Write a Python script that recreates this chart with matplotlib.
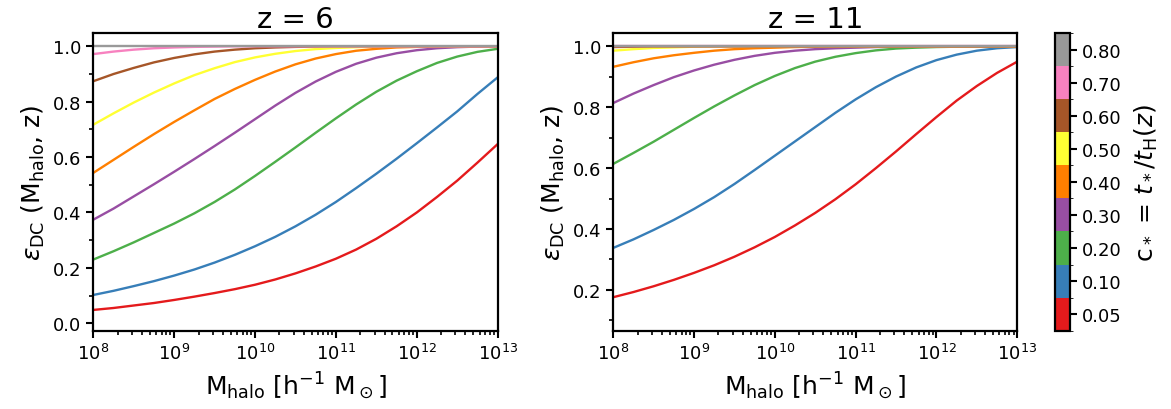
import numpy as np
import matplotlib
matplotlib.use("Agg")
import matplotlib.pyplot as plt
from matplotlib.colors import ListedColormap, BoundaryNorm
from matplotlib.cm import ScalarMappable
from matplotlib.ticker import MultipleLocator

# log10 of halo mass where the curves were read
log_mass = [8.0, 8.25, 8.5, 8.75, 9.0, 9.25, 9.5, 9.75, 10.0, 10.25, 10.5,
            10.75, 11.0, 11.25, 11.5, 11.75, 12.0, 12.25, 12.5, 12.75, 13.0]

c_star = [0.05, 0.10, 0.20, 0.30, 0.40, 0.50, 0.60, 0.70, 0.80]
c_labels = ["0.05", "0.10", "0.20", "0.30", "0.40", "0.50", "0.60", "0.70", "0.80"]
colors = ["#e41a1c", "#377eb8", "#4daf4a", "#984ea3", "#ff7f00",
          "#ffff33", "#a65628", "#f781bf", "#999999"]

# z = 6, one row per c_* value
eps_z6 = [
    [0.048, 0.055, 0.064, 0.073, 0.084, 0.096, 0.109, 0.123, 0.139, 0.158, 0.180,
     0.205, 0.233, 0.266, 0.305, 0.350, 0.400, 0.456, 0.515, 0.580, 0.647],
    [0.102, 0.117, 0.134, 0.152, 0.172, 0.194, 0.219, 0.247, 0.278, 0.312, 0.350,
     0.392, 0.438, 0.488, 0.540, 0.594, 0.650, 0.707, 0.765, 0.828, 0.888],
    [0.230, 0.260, 0.292, 0.326, 0.360, 0.397, 0.438, 0.483, 0.532, 0.583, 0.635,
     0.688, 0.740, 0.790, 0.836, 0.876, 0.910, 0.940, 0.963, 0.980, 0.991],
    [0.374, 0.414, 0.458, 0.502, 0.547, 0.593, 0.640, 0.688, 0.737, 0.786, 0.832,
     0.873, 0.908, 0.937, 0.959, 0.975, 0.986, 0.993, 0.997, 0.999, 1.000],
    [0.543, 0.590, 0.637, 0.683, 0.727, 0.769, 0.810, 0.846, 0.879, 0.909, 0.935,
     0.956, 0.972, 0.984, 0.991, 0.996, 0.998, 0.999, 1.000, 1.000, 1.000],
    [0.717, 0.758, 0.797, 0.833, 0.866, 0.896, 0.921, 0.943, 0.960, 0.973, 0.983,
     0.990, 0.994, 0.997, 0.999, 1.000, 1.000, 1.000, 1.000, 1.000, 1.000],
    [0.874, 0.900, 0.922, 0.942, 0.958, 0.971, 0.981, 0.988, 0.993, 0.996, 0.998,
     0.999, 1.000, 1.000, 1.000, 1.000, 1.000, 1.000, 1.000, 1.000, 1.000],
    [0.972, 0.981, 0.988, 0.993, 0.996, 0.998, 0.999, 1.000, 1.000, 1.000, 1.000,
     1.000, 1.000, 1.000, 1.000, 1.000, 1.000, 1.000, 1.000, 1.000, 1.000],
    [1.000, 1.000, 1.000, 1.000, 1.000, 1.000, 1.000, 1.000, 1.000, 1.000, 1.000,
     1.000, 1.000, 1.000, 1.000, 1.000, 1.000, 1.000, 1.000, 1.000, 1.000],
]

# z = 11
eps_z11 = [
    [0.176, 0.193, 0.212, 0.233, 0.256, 0.281, 0.309, 0.340, 0.374, 0.412, 0.453,
     0.498, 0.547, 0.600, 0.655, 0.712, 0.768, 0.822, 0.870, 0.913, 0.950],
    [0.338, 0.366, 0.397, 0.430, 0.466, 0.505, 0.548, 0.594, 0.641, 0.688, 0.735,
     0.782, 0.826, 0.866, 0.901, 0.931, 0.955, 0.973, 0.986, 0.994, 0.998],
    [0.614, 0.650, 0.687, 0.726, 0.765, 0.803, 0.839, 0.873, 0.903, 0.929, 0.950,
     0.966, 0.978, 0.987, 0.993, 0.996, 0.998, 0.999, 1.000, 1.000, 1.000],
    [0.814, 0.845, 0.873, 0.899, 0.921, 0.940, 0.956, 0.969, 0.979, 0.986, 0.991,
     0.994, 0.996, 0.998, 0.999, 1.000, 1.000, 1.000, 1.000, 1.000, 1.000],
    [0.933, 0.948, 0.961, 0.971, 0.979, 0.986, 0.991, 0.994, 0.996, 0.998, 0.999,
     1.000, 1.000, 1.000, 1.000, 1.000, 1.000, 1.000, 1.000, 1.000, 1.000],
    [0.986, 0.991, 0.995, 0.997, 0.999, 1.000, 1.000, 1.000, 1.000, 1.000, 1.000,
     1.000, 1.000, 1.000, 1.000, 1.000, 1.000, 1.000, 1.000, 1.000, 1.000],
    [0.998, 0.999, 1.000, 1.000, 1.000, 1.000, 1.000, 1.000, 1.000, 1.000, 1.000,
     1.000, 1.000, 1.000, 1.000, 1.000, 1.000, 1.000, 1.000, 1.000, 1.000],
    [1.000, 1.000, 1.000, 1.000, 1.000, 1.000, 1.000, 1.000, 1.000, 1.000, 1.000,
     1.000, 1.000, 1.000, 1.000, 1.000, 1.000, 1.000, 1.000, 1.000, 1.000],
    [1.000, 1.000, 1.000, 1.000, 1.000, 1.000, 1.000, 1.000, 1.000, 1.000, 1.000,
     1.000, 1.000, 1.000, 1.000, 1.000, 1.000, 1.000, 1.000, 1.000, 1.000],
]

redshifts = [6, 11]


def style_axis(ax, ylim):
    ax.set_xscale("log")
    ax.set_xlim(1e8, 1e13)
    ax.set_ylim(*ylim)
    ax.yaxis.set_major_locator(MultipleLocator(0.2))
    ax.yaxis.set_minor_locator(MultipleLocator(0.1))
    ax.tick_params(which="major", length=5, width=1.5, labelsize=13)
    ax.tick_params(which="minor", length=3, width=1.2)
    for s in ax.spines.values():
        s.set_linewidth(1.6)
    ax.set_xlabel(r"M$_{\rm halo}$ [h$^{-1}$ M$_\odot$]", fontsize=18, labelpad=5)
    ax.set_ylabel(r"$\varepsilon_{\rm DC}$ (M$_{\rm halo}$, z)", fontsize=18)


fig = plt.figure(figsize=(11.71, 4.10), dpi=100)
ax1 = fig.add_axes([0.0797, 0.191, 0.3453, 0.726])
ax2 = fig.add_axes([0.5237, 0.191, 0.3450, 0.726])
cax = fig.add_axes([0.901, 0.191, 0.0128, 0.726])

mass = 10 ** np.array(log_mass)
for ax, data, z in zip([ax1, ax2], [eps_z6, eps_z11], redshifts):
    for vals, col in zip(data, colors):
        ax.plot(mass, vals, color=col, lw=1.7)
    ax.set_title(f"z = {z}", fontsize=21, pad=4)

style_axis(ax1, (-0.027, 1.048))
style_axis(ax2, (0.066, 1.044))
ax2.set_yticks([0.2, 0.4, 0.6, 0.8, 1.0])

cmap = ListedColormap(colors)
norm = BoundaryNorm(np.arange(len(colors) + 1) - 0.5, cmap.N)
sm = ScalarMappable(norm=norm, cmap=cmap)
cb = fig.colorbar(sm, cax=cax, ticks=np.arange(len(colors)))
cb.ax.set_yticklabels(c_labels)
cb.ax.tick_params(labelsize=13, length=5, width=1.5)
cb.outline.set_linewidth(1.6)
cb.set_label(r"c$_*$ = $t_*/t_{\rm H}(z)$", fontsize=18, labelpad=8)

fig.savefig("out.png", dpi=100)
